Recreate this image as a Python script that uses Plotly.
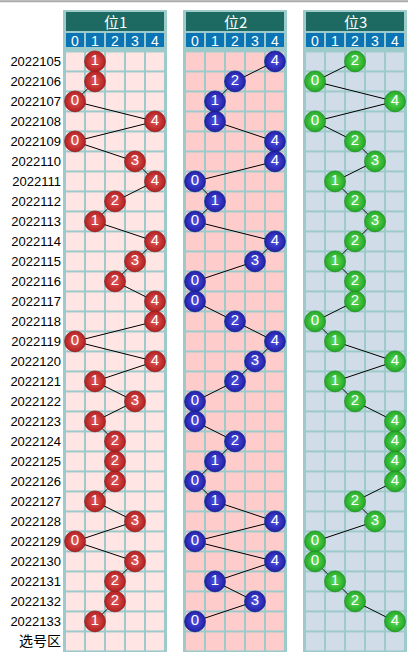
import plotly.graph_objects as go

periods = ["2022105", "2022106", "2022107", "2022108", "2022109", "2022110",
           "2022111", "2022112", "2022113", "2022114", "2022115", "2022116",
           "2022117", "2022118", "2022119", "2022120", "2022121", "2022122",
           "2022123", "2022124", "2022125", "2022126", "2022127", "2022128",
           "2022129", "2022130", "2022131", "2022132", "2022133"]
extra_row = "选号区"
digits = [0, 1, 2, 3, 4]
titles = ["位1", "位2", "位3"]

pos1 = [1, 1, 0, 4, 0, 3, 4, 2, 1, 4, 3, 2, 4, 4, 0, 4, 1, 3, 1, 2, 2, 2, 1, 3, 0, 3, 2, 2, 1]
pos2 = [4, 2, 1, 1, 4, 4, 0, 1, 0, 4, 3, 0, 0, 2, 4, 3, 2, 0, 0, 2, 1, 0, 1, 4, 0, 4, 1, 3, 0]
pos3 = [2, 0, 4, 0, 2, 3, 1, 2, 3, 2, 1, 2, 2, 0, 1, 4, 1, 2, 4, 4, 4, 4, 2, 3, 0, 0, 1, 2, 4]
series = [pos1, pos2, pos3]

# styling
W, H = 408, 657
cell_colors = ["#ffe5e3", "#ffcccc", "#d0dce7"]
ball_edge = ["#b21f1f", "#1f1fa6", "#23a823"]
ball_center = ["#e45a5a", "#5252e6", "#5fdd5f"]
ball_line = ["#8a1414", "#14147a", "#178017"]
grid_color = "#9dcaca"
title_color = "#1d6a62"
digit_color = "#0b74b5"

row0_px = 61.4
row_px = 20.0


def v(p):
    return (p - row0_px) / row_px


labels = periods + ['<span style="font-size:14px">%s</span>' % extra_row]
n_rows = len(labels)
panel_col0 = [75, 195, 315]

fig = go.Figure()
shapes = []
annotations = []
layout_axes = {}

for k in range(3):
    xa = "x" if k == 0 else f"x{k+1}"
    xkey = "xaxis" if k == 0 else f"xaxis{k+1}"
    c0 = panel_col0[k]
    layout_axes[xkey] = dict(
        domain=[(c0 - 12) / W, (c0 + 92) / W],
        range=[-0.6, 4.6], anchor="y",
        showgrid=False, zeroline=False, showticklabels=False, ticks="",
        showline=False, fixedrange=True,
    )
    fig.add_trace(go.Heatmap(
        x=digits, y=list(range(n_rows)),
        z=[[1] * len(digits) for _ in range(n_rows)],
        colorscale=[[0, cell_colors[k]], [1, cell_colors[k]]],
        showscale=False, xgap=2, ygap=2, hoverinfo="skip",
        xaxis=xa, yaxis="y",
    ))
    vals = series[k]
    fig.add_trace(go.Scatter(
        x=vals, y=list(range(len(vals))),
        mode="lines+markers+text",
        text=[str(d) for d in vals],
        textposition="middle center",
        textfont=dict(color="white", size=15, family="Liberation Sans"),
        line=dict(color="black", width=1),
        marker=dict(size=21, color=ball_edge[k],
                    gradient=dict(type="radial", color=ball_center[k]),
                    line=dict(color=ball_line[k], width=0.6)),
        hoverinfo="skip", showlegend=False,
        xaxis=xa, yaxis="y",
    ))
    # header title row
    shapes.append(dict(type="rect", xref=xa, yref="y",
                       x0=-0.45, x1=4.45, y0=v(12), y1=v(31),
                       fillcolor=title_color, line=dict(width=0)))
    annotations.append(dict(x=2, y=v(21.5), xref=xa, yref="y", text=titles[k],
                            showarrow=False,
                            font=dict(color="white", size=15,
                                      family="Noto Sans CJK SC")))
    for d in digits:
        shapes.append(dict(type="rect", xref=xa, yref="y",
                           x0=d - 0.45, x1=d + 0.45, y0=v(33), y1=v(47),
                           fillcolor=digit_color, line=dict(width=0)))
        annotations.append(dict(x=d, y=v(40.5), xref=xa, yref="y", text=str(d),
                                showarrow=False,
                                font=dict(color="white", size=14,
                                          family="Liberation Sans")))

# top gray rule
shapes.append(dict(type="line", xref="paper", yref="paper",
                   x0=0, x1=1, y0=1 - 1.2 / H, y1=1 - 1.2 / H,
                   line=dict(color="#a9a9a9", width=2)))

fig.update_layout(
    width=W, height=H,
    margin=dict(l=0, r=0, t=0, b=0),
    paper_bgcolor="white",
    plot_bgcolor=grid_color,
    showlegend=False,
    shapes=shapes,
    annotations=annotations,
    yaxis=dict(
        domain=[1 - 652 / H, 1 - 10 / H],
        range=[v(652), v(10)],
        tickvals=list(range(n_rows)), ticktext=labels,
        anchor="free", position=61 / W,
        showgrid=False, zeroline=False, showline=False, ticks="",
        tickfont=dict(color="black", size=13,
                      family="Liberation Sans, Noto Sans CJK SC"),
        fixedrange=True,
    ),
    **layout_axes,
)

fig.write_html(
    "out.html",
    config={"displayModeBar": False},
    post_script="document.body.style.margin='0';document.body.style.overflow='hidden';",
)
